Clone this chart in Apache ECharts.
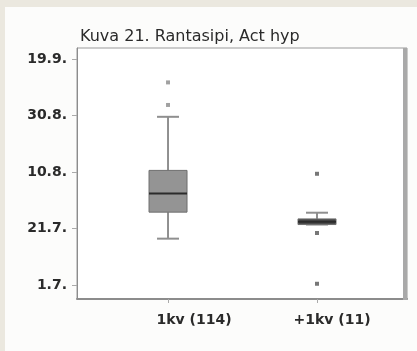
<!DOCTYPE html>
<html>
<head>
<meta charset="utf-8">
<script src="https://cdn.jsdelivr.net/npm/echarts@6/dist/echarts.min.js"></script>
<style>
  html, body { margin: 0; padding: 0; background: #ebe8df; }
  #chart { width: 417px; height: 351px; }
</style>
</head>
<body>
<div id="chart"></div>
<script>
// Group names along the bottom axis
const categories = ['1kv (114)', '+1kv (11)'];
// Labels for the five y ticks, bottom to top
const yTickLabels = ['1.7.', '21.7.', '10.8.', '30.8.', '19.9.'];
const yTickValues = [0, 1, 2, 3, 4];

// Five-number summaries per group (in y-tick units)
const lowWhisker  = [0.82, 1.07];
const q1          = [1.29, 1.07];
const median      = [1.62, 1.12];
const q3          = [2.03, 1.17];
const highWhisker = [2.98, 1.28];

// Outlying points per group
const outliers1 = [3.19, 3.59];
const outliers2 = [0.02, 0.92, 1.97];

const boxData = categories.map((c, i) => [i, lowWhisker[i], q1[i], median[i], q3[i], highWhisker[i]]);

const boxFill = ['#949494', '#4a4a4a'];
const outlierColor = ['#8a8a8a', '#555555'];

function renderBox(params, api) {
  const x = api.value(0);
  const lo = api.coord([x, api.value(1)]);
  const b1 = api.coord([x, api.value(2)]);
  const md = api.coord([x, api.value(3)]);
  const b3 = api.coord([x, api.value(4)]);
  const hi = api.coord([x, api.value(5)]);
  const bw = 38, cw = 22;
  const cx = lo[0];
  const idx = params.dataIndex;
  const wl = { stroke: '#8f8f8f', lineWidth: 2 };
  return {
    type: 'group',
    children: [
      { type: 'line', shape: { x1: cx, y1: hi[1], x2: cx, y2: b3[1] }, style: wl },
      { type: 'line', shape: { x1: cx, y1: b1[1], x2: cx, y2: lo[1] }, style: wl },
      { type: 'line', shape: { x1: cx - cw / 2, y1: hi[1], x2: cx + cw / 2, y2: hi[1] }, style: wl },
      { type: 'line', shape: { x1: cx - cw / 2, y1: lo[1], x2: cx + cw / 2, y2: lo[1] }, style: wl },
      { type: 'rect', shape: { x: cx - bw / 2, y: b3[1], width: bw, height: b1[1] - b3[1] },
        style: { fill: boxFill[idx], stroke: '#6e6e6e', lineWidth: 1 } },
      { type: 'line', shape: { x1: cx - bw / 2, y1: md[1], x2: cx + bw / 2, y2: md[1] },
        style: { stroke: '#2b2b2b', lineWidth: 2 } }
    ]
  };
}

const chart = echarts.init(document.getElementById('chart'), null, { renderer: 'canvas' });
chart.setOption({
  animation: false,
  backgroundColor: '#ebe8df',
  graphic: [
    { type: 'rect', z: -10, shape: { x: 5, y: 7, width: 412, height: 344 }, style: { fill: '#fcfcfb' } },
    { type: 'rect', z: 10, shape: { x: 403, y: 48, width: 4, height: 252 }, style: { fill: '#a9a9a9' } }
  ],
  title: {
    text: 'Kuva 21. Rantasipi, Act hyp',
    left: 80, top: 29, padding: 0,
    textStyle: { fontFamily: 'DejaVu Sans', fontSize: 16, fontWeight: 'normal', color: '#2a2a2a' }
  },
  grid: {
    left: 77, top: 48, right: 10, bottom: 52,
    show: true, backgroundColor: '#ffffff', borderColor: '#9a9a9a', borderWidth: 1
  },
  xAxis: {
    type: 'value', min: -0.611, max: 1.604,
    splitLine: { show: false },
    axisLine: { show: true, onZero: false, lineStyle: { color: '#8c8c8c', width: 2 } },
    axisTick: { show: true, customValues: [0, 1], length: 4, lineStyle: { color: '#aaaaaa' } },
    axisLabel: {
      customValues: [0, 1], margin: 14,
      formatter: v => (Math.round(v) === 0 ? '{a|' + categories[0] + '}' : '{b|' + categories[1] + '}'),
      rich: {
        a: { fontFamily: 'DejaVu Sans', fontSize: 14, fontWeight: 'bold', color: '#2a2a2a', padding: [0, 0, 0, 52] },
        b: { fontFamily: 'DejaVu Sans', fontSize: 14, fontWeight: 'bold', color: '#2a2a2a', padding: [0, 0, 0, 30] }
      }
    }
  },
  yAxis: {
    type: 'value', min: -0.25, max: 4.2,
    splitLine: { show: false },
    axisLine: { show: true, onZero: false, lineStyle: { color: '#8c8c8c', width: 1 } },
    axisTick: { show: true, customValues: yTickValues, length: 5, lineStyle: { color: '#aaaaaa' } },
    axisLabel: {
      customValues: yTickValues, margin: 10,
      fontFamily: 'DejaVu Sans', fontSize: 14, fontWeight: 'bold', color: '#2a2a2a',
      formatter: v => yTickLabels[Math.round(v)]
    }
  },
  series: [
    {
      type: 'custom',
      renderItem: renderBox,
      encode: { x: 0, y: [1, 2, 3, 4, 5] },
      data: boxData
    },
    {
      type: 'scatter',
      symbol: 'rect', symbolSize: 4,
      itemStyle: { color: outlierColor[0] },
      data: outliers1.map(v => [0, v])
    },
    {
      type: 'scatter',
      symbol: 'rect', symbolSize: 4,
      itemStyle: { color: outlierColor[1] },
      data: outliers2.map(v => [1, v])
    }
  ]
});
</script>
</body>
</html>
